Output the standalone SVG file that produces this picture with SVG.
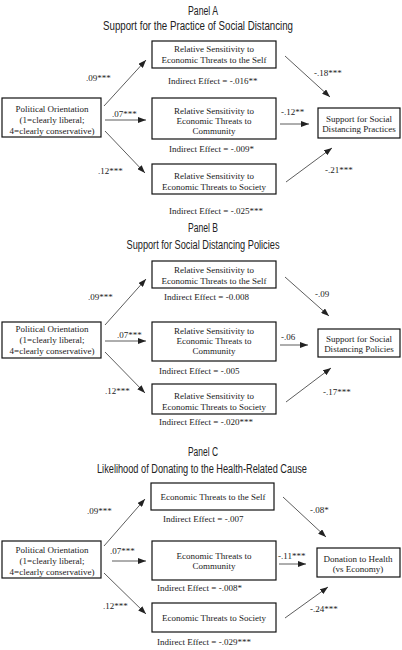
<svg xmlns="http://www.w3.org/2000/svg" width="402" height="650" viewBox="0 0 402 650">
<defs>
<marker id="ah" markerUnits="userSpaceOnUse" markerWidth="8" markerHeight="6" refX="8" refY="3" orient="auto"><path d="M0,0 L8,3 L0,6 z" fill="#222"/></marker>
<style>
.bg{fill:#fff}
.box{fill:#fff;stroke:#111;stroke-width:1.2}
.t{font-family:"Liberation Serif","Times New Roman",serif;font-size:9px;fill:#1a1a1a;text-anchor:middle}
.l{font-family:"Liberation Serif","Times New Roman",serif;font-size:9px;fill:#1a1a1a}
.h{font-family:"Liberation Sans Narrow","Liberation Sans",Arial,sans-serif;font-size:12px;fill:#222;text-anchor:middle}
.c{stroke:#333;stroke-width:0.8;fill:none;marker-end:url(#ah)}
</style>
</defs>
<rect class="bg" x="0" y="0" width="402" height="650"/>

<!-- Titles -->
<g id="titles">
<text class="h" x="203" y="15" textLength="30" lengthAdjust="spacingAndGlyphs">Panel A</text>
<text class="h" x="198" y="30" textLength="190" lengthAdjust="spacingAndGlyphs">Support for the Practice of Social Distancing</text>
<text class="h" x="203" y="232" textLength="30" lengthAdjust="spacingAndGlyphs">Panel B</text>
<text class="h" x="203" y="249" textLength="153" lengthAdjust="spacingAndGlyphs">Support for Social Distancing Policies</text>
<text class="h" x="203" y="456" textLength="30" lengthAdjust="spacingAndGlyphs">Panel C</text>
<text class="h" x="202" y="473" textLength="210" lengthAdjust="spacingAndGlyphs">Likelihood of Donating to the Health-Related Cause</text>
</g>

<!-- Connectors -->
<g id="connectors">
<line class="c" x1="104" y1="106" x2="146" y2="60"/>
<line class="c" x1="105" y1="120" x2="146" y2="120"/>
<line class="c" x1="105" y1="131" x2="145" y2="173"/>
<line class="c" x1="285" y1="56" x2="330" y2="97"/>
<line class="c" x1="280" y1="124" x2="309" y2="124"/>
<line class="c" x1="286" y1="182" x2="332" y2="148"/>

<line class="c" x1="105" y1="325" x2="146" y2="279"/>
<line class="c" x1="105" y1="341" x2="146" y2="341"/>
<line class="c" x1="105" y1="352" x2="145" y2="393"/>
<line class="c" x1="285" y1="277" x2="329" y2="316"/>
<line class="c" x1="280" y1="345" x2="308" y2="345"/>
<line class="c" x1="286" y1="402" x2="331" y2="368"/>

<line class="c" x1="104" y1="546" x2="145" y2="499"/>
<line class="c" x1="112" y1="561" x2="146" y2="561"/>
<line class="c" x1="104" y1="573" x2="146" y2="614"/>
<line class="c" x1="283" y1="497" x2="326" y2="537"/>
<line class="c" x1="279" y1="564" x2="306" y2="564"/>
<line class="c" x1="285" y1="618" x2="328" y2="587"/>
</g>

<!-- Path labels -->
<g id="labels">
<text class="l" x="86" y="81">.09***</text>
<text class="l" x="314" y="76">-.18***</text>
<text class="l" x="112" y="117">.07***</text>
<text class="l" x="281" y="115">-.12**</text>
<text class="l" x="98" y="174">.12***</text>
<text class="l" x="325" y="173">-.21***</text>
<text class="l" x="168" y="84">Indirect Effect = -.016**</text>
<text class="l" x="169" y="152">Indirect Effect = -.009*</text>
<text class="l" x="169" y="214">Indirect Effect = -.025***</text>

<text class="l" x="88" y="300">.09***</text>
<text class="l" x="315" y="297">-.09</text>
<text class="l" x="117" y="338">.07***</text>
<text class="l" x="281" y="340">-.06</text>
<text class="l" x="105" y="394">.12***</text>
<text class="l" x="323" y="395">-.17***</text>
<text class="l" x="164" y="300">Indirect Effect = -0.008</text>
<text class="l" x="159" y="374">Indirect Effect = -.005</text>
<text class="l" x="159" y="425">Indirect Effect = -.020***</text>

<text class="l" x="87" y="514">.09***</text>
<text class="l" x="310" y="513">-.08*</text>
<text class="l" x="110" y="554">.07***</text>
<text class="l" x="278" y="559">-.11***</text>
<text class="l" x="103" y="609">.12***</text>
<text class="l" x="310" y="612">-.24***</text>
<text class="l" x="163" y="522">Indirect Effect = -.007</text>
<text class="l" x="157" y="591">Indirect Effect = -.008*</text>
<text class="l" x="157" y="645">Indirect Effect = -.029***</text>
</g>

<!-- Panel A nodes -->
<g id="A-pol"><rect class="box" x="2" y="98" width="99" height="39"/>
<text class="t" x="52" y="112">Political Orientation</text>
<text class="t" x="52" y="123">(1=clearly liberal;</text>
<text class="t" x="52" y="134">4=clearly conservative)</text></g>
<g id="A-self"><rect class="box" x="152" y="41" width="124" height="27"/>
<text class="t" x="214" y="52">Relative Sensitivity to</text>
<text class="t" x="214" y="63">Economic Threats to the Self</text></g>
<g id="A-comm"><rect class="box" x="152" y="98" width="124" height="41"/>
<text class="t" x="214" y="114">Relative Sensitivity to</text>
<text class="t" x="214" y="124">Economic Threats to</text>
<text class="t" x="214" y="134">Community</text></g>
<g id="A-soc"><rect class="box" x="152" y="164" width="124" height="30"/>
<text class="t" x="214" y="179">Relative Sensitivity to</text>
<text class="t" x="214" y="190">Economic Threats to Society</text></g>
<g id="A-out"><rect class="box" x="318" y="108" width="82" height="30"/>
<text class="t" x="359" y="122">Support for Social</text>
<text class="t" x="359" y="132">Distancing Practices</text></g>

<!-- Panel B nodes -->
<g id="B-pol"><rect class="box" x="2" y="322" width="99" height="36"/>
<text class="t" x="52" y="332">Political Orientation</text>
<text class="t" x="52" y="343">(1=clearly liberal;</text>
<text class="t" x="52" y="354">4=clearly conservative)</text></g>
<g id="B-self"><rect class="box" x="152" y="261" width="124" height="27"/>
<text class="t" x="214" y="273">Relative Sensitivity to</text>
<text class="t" x="214" y="284">Economic Threats to the Self</text></g>
<g id="B-comm"><rect class="box" x="152" y="322" width="124" height="39"/>
<text class="t" x="214" y="334">Relative Sensitivity to</text>
<text class="t" x="214" y="344">Economic Threats to</text>
<text class="t" x="214" y="354">Community</text></g>
<g id="B-soc"><rect class="box" x="152" y="384" width="124" height="30"/>
<text class="t" x="214" y="399">Relative Sensitivity to</text>
<text class="t" x="214" y="410">Economic Threats to Society</text></g>
<g id="B-out"><rect class="box" x="318" y="329" width="82" height="28"/>
<text class="t" x="359" y="342">Support for Social</text>
<text class="t" x="359" y="352">Distancing Policies</text></g>

<!-- Panel C nodes -->
<g id="C-pol"><rect class="box" x="2" y="541" width="99" height="37"/>
<text class="t" x="52" y="553">Political Orientation</text>
<text class="t" x="52" y="564">(1=clearly liberal;</text>
<text class="t" x="52" y="575">4=clearly conservative)</text></g>
<g id="C-self"><rect class="box" x="151" y="483" width="123" height="27"/>
<text class="t" x="213" y="500">Economic Threats to the Self</text></g>
<g id="C-comm"><rect class="box" x="152" y="541" width="124" height="39"/>
<text class="t" x="214" y="559">Economic Threats to</text>
<text class="t" x="214" y="569">Community</text></g>
<g id="C-soc"><rect class="box" x="152" y="603" width="124" height="29"/>
<text class="t" x="214" y="621">Economic Threats to Society</text></g>
<g id="C-out"><rect class="box" x="317" y="548" width="83" height="29"/>
<text class="t" x="358" y="562">Donation to Health</text>
<text class="t" x="358" y="572">(vs Economy)</text></g>
</svg>
